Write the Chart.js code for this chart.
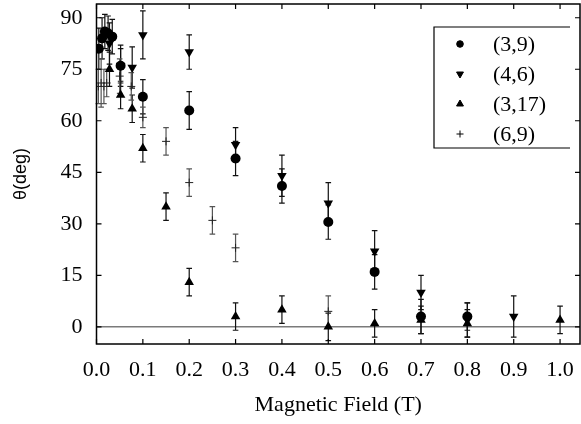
<!DOCTYPE html>
<html>
<head>
<meta charset="utf-8">
<script src="https://cdn.jsdelivr.net/npm/chart.js@4.4.0/dist/chart.umd.min.js"></script>
<style>
  html,body{margin:0;padding:0;background:#fff;}
  #wrap{width:581px;height:424px;}
</style>
</head>
<body>
<div id="wrap"><canvas id="c" width="581" height="424"></canvas></div>
<script>
// ===== Data =====
const seriesNames = ["(3,9)", "(4,6)", "(3,17)", "(6,9)"];

const s39X   = [0.005, 0.012, 0.018, 0.025, 0.034, 0.052, 0.1, 0.2, 0.3, 0.4, 0.5, 0.6, 0.7, 0.8];
const s39Y   = [81, 84, 86, 85.5, 84.5, 76, 67, 63, 49, 41, 30.5, 16, 3, 3];
const s39Err = [6, 6, 5, 5, 5, 6, 5, 5.5, 5, 5, 5, 5, 5, 4];

const s46X   = [0.028, 0.052, 0.077, 0.1, 0.2, 0.3, 0.4, 0.5, 0.6, 0.7, 0.8, 0.9];
const s46Y   = [82.5, 76, 75.5, 85, 80, 53, 44, 36, 22, 10, 2, 3];
const s46Err = [6, 5, 6, 7, 5, 5, 6, 6, 6, 5, 5, 6];

const s317X   = [0.028, 0.052, 0.077, 0.1, 0.15, 0.2, 0.3, 0.4, 0.5, 0.6, 0.7, 0.8, 1.0];
const s317Y   = [75, 67.5, 63.5, 52, 35, 13, 3, 5, 0, 1, 2, 1, 2];
const s317Err = [5, 4, 4, 4, 4, 4, 4, 4, 4, 4, 4, 4, 4];

const s69X   = [0.004, 0.01, 0.016, 0.022, 0.05, 0.075, 0.1, 0.15, 0.2, 0.25, 0.3, 0.5];
const s69Y   = [70, 71, 70, 71, 73, 70, 61, 54, 42, 31, 23, 4.5];
const s69Err = [5, 7, 5, 4, 5, 4, 3, 4, 4, 4, 4, 4.5];

const xTicks = [0, 0.1, 0.2, 0.3, 0.4, 0.5, 0.6, 0.7, 0.8, 0.9, 1.0];
const yTicks = [0, 15, 30, 45, 60, 75, 90];

// ===== Helpers =====
function pts(xs, ys){ return xs.map((x,i)=>({x:x, y:ys[i]})); }
const serif = "'Liberation Serif', 'Times New Roman', serif";

const datasets = [
  {label:seriesNames[0], data:pts(s39X,s39Y), err:s39Err, pointStyle:"circle", pointRadius:5,
   rotation:0, backgroundColor:"#000", borderColor:"#000", borderWidth:0, barColor:"#111", lr:3.3},
  {label:seriesNames[1], data:pts(s46X,s46Y), err:s46Err, pointStyle:"triangle", pointRadius:5.5,
   rotation:180, backgroundColor:"#000", borderColor:"#000", borderWidth:0, barColor:"#111", lr:4},
  {label:seriesNames[2], data:pts(s317X,s317Y), err:s317Err, pointStyle:"triangle", pointRadius:5.5,
   rotation:0, backgroundColor:"#000", borderColor:"#000", borderWidth:0, barColor:"#111", lr:4},
  {label:seriesNames[3], data:pts(s69X,s69Y), err:s69Err, pointStyle:"cross", pointRadius:4,
   rotation:0, backgroundColor:"#000", borderColor:"#222", borderWidth:1, barColor:"#555", lr:3.5}
];

// ===== Plugin: error bars, zero line, frame, legend =====
const decor = {
  id:"decor",
  beforeDatasetsDraw(chart){
    const ctx=chart.ctx, xs=chart.scales.x, ys=chart.scales.y, a=chart.chartArea;
    ctx.save();
    // zero line
    ctx.strokeStyle="#7a7a7a"; ctx.lineWidth=1.5;
    ctx.beginPath(); ctx.moveTo(a.left, ys.getPixelForValue(0)); ctx.lineTo(a.right, ys.getPixelForValue(0)); ctx.stroke();
    // error bars
    chart.data.datasets.forEach(ds=>{
      ctx.strokeStyle=ds.barColor; ctx.lineWidth=1.2;
      ds.data.forEach((p,i)=>{
        const px=xs.getPixelForValue(p.x);
        const top=ys.getPixelForValue(p.y+ds.err[i]);
        const bot=ys.getPixelForValue(p.y-ds.err[i]);
        ctx.beginPath();
        ctx.moveTo(px,top); ctx.lineTo(px,bot);
        ctx.moveTo(px-2.8,top); ctx.lineTo(px+2.8,top);
        ctx.moveTo(px-2.8,bot); ctx.lineTo(px+2.8,bot);
        ctx.stroke();
      });
    });
    ctx.restore();
  },
  afterDraw(chart){
    const ctx=chart.ctx, xs=chart.scales.x, ys=chart.scales.y, a=chart.chartArea;
    ctx.save();
    ctx.strokeStyle="#000"; ctx.lineWidth=1.5;
    ctx.strokeRect(a.left, a.top, a.right-a.left, a.bottom-a.top);
    ctx.lineWidth=1.2;
    ctx.beginPath();
    xTicks.forEach(v=>{
      const px=xs.getPixelForValue(v);
      ctx.moveTo(px,a.bottom); ctx.lineTo(px,a.bottom-5);
      ctx.moveTo(px,a.top); ctx.lineTo(px,a.top+5);
    });
    yTicks.forEach(v=>{
      const py=ys.getPixelForValue(v);
      ctx.moveTo(a.left,py); ctx.lineTo(a.left+5,py);
      ctx.moveTo(a.right,py); ctx.lineTo(a.right-5,py);
    });
    ctx.stroke();

    // legend box
    const bx=434, by=27, bw=136, bh=121, rowH=30;
    ctx.fillStyle="#fff"; ctx.fillRect(bx,by,bw,bh);
    ctx.strokeStyle="#000"; ctx.lineWidth=1.2;
    ctx.beginPath();
    ctx.moveTo(bx+bw,by); ctx.lineTo(bx,by); ctx.lineTo(bx,by+bh); ctx.lineTo(bx+bw,by+bh);
    ctx.stroke();
    ctx.font="22px "+serif; ctx.textBaseline="middle"; ctx.textAlign="left";
    chart.data.datasets.forEach((ds,i)=>{
      const cy=by+17+i*rowH;
      ctx.fillStyle="#000"; ctx.strokeStyle="#000"; ctx.lineWidth=1;
      Chart.helpers.drawPoint(ctx,{pointStyle:ds.pointStyle, radius:ds.lr, rotation:ds.rotation, borderWidth:1},460,cy);
      ctx.fillText(ds.label,493,cy+1);
    });
    ctx.restore();
  }
};

function noPad(s){ s.paddingTop=0; s.paddingBottom=0; s.paddingLeft=0; s.paddingRight=0; }

Chart.defaults.font.family=serif;
Chart.defaults.color="#000";

new Chart(document.getElementById("c"),{
  type:"scatter",
  data:{datasets:datasets},
  plugins:[decor],
  options:{
    responsive:false, animation:false,
    layout:{autoPadding:false, padding:{top:4,right:1,left:0,bottom:4}},
    plugins:{legend:{display:false}, tooltip:{enabled:false}},
    elements:{point:{hoverRadius:5}},
    scales:{
      x:{
        type:"linear", min:0, max:1.043,
        afterBuildTicks(s){ s.ticks=xTicks.map(v=>({value:v})); },
        afterFit(s){ s.height=76; noPad(s); },
        grid:{display:false, drawTicks:false},
        border:{display:false},
        ticks:{padding:13, font:{size:22, family:serif}, callback:v=>v.toFixed(1)},
        title:{display:true, text:"Magnetic Field (T)", font:{size:22, family:serif}, padding:{top:0,bottom:2}}
      },
      y:{
        type:"linear", min:-5, max:94,
        afterBuildTicks(s){ s.ticks=yTicks.map(v=>({value:v})); },
        afterFit(s){ s.width=96.5; noPad(s); },
        grid:{display:false, drawTicks:false},
        border:{display:false},
        ticks:{padding:14, font:{size:22, family:serif}},
        title:{display:true, text:"θ(deg)", font:{size:18, family:"'Liberation Sans', Arial, sans-serif"}, padding:{top:10,bottom:0}}
      }
    }
  }
});
</script>
</body>
</html>
